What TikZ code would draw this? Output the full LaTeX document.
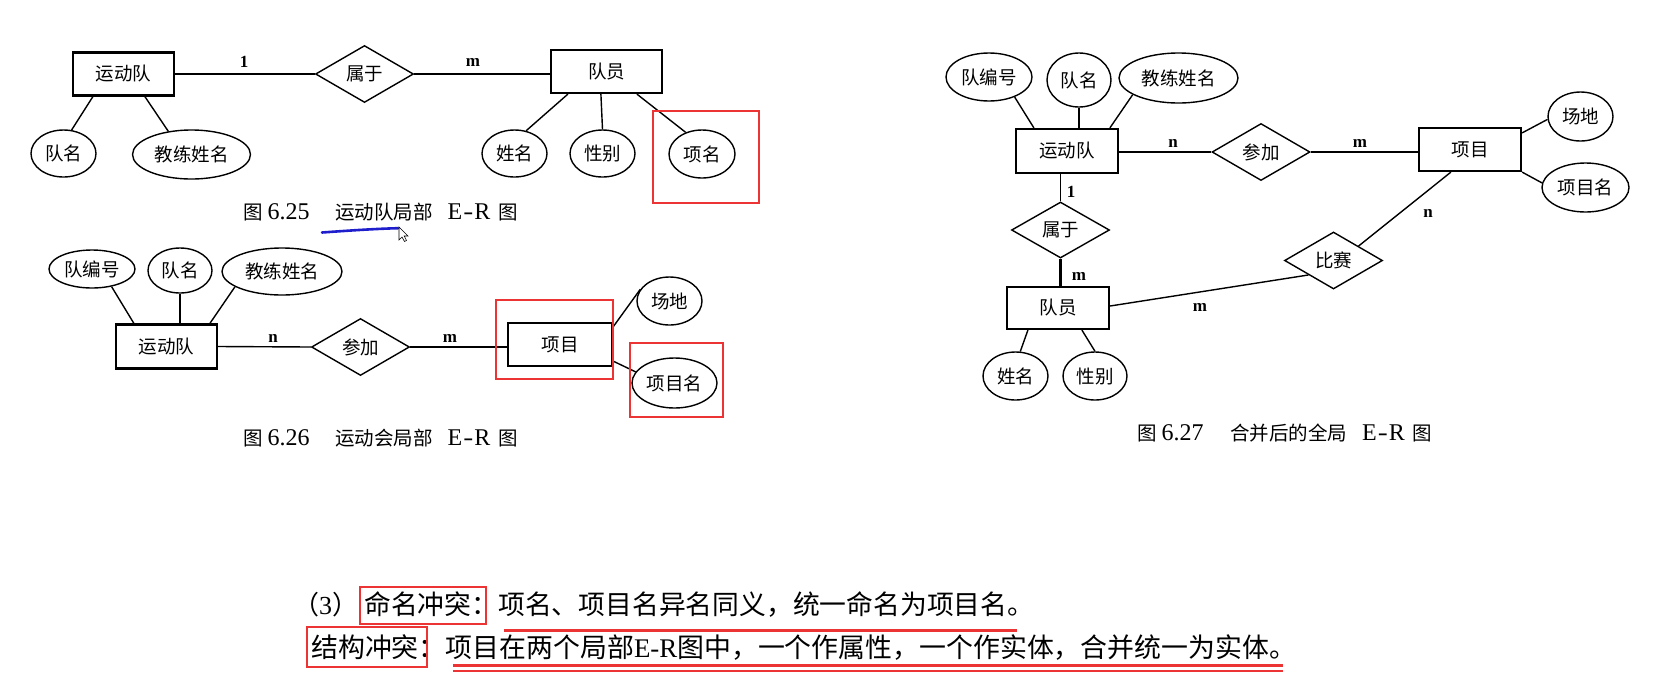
\documentclass[tikz,border=0pt]{standalone}
\usepackage{fontspec}
\setmainfont{Liberation Serif}
\newfontfamily\cjk{Noto Sans CJK SC}
\usetikzlibrary{shapes.geometric,calc}
\definecolor{annred}{RGB}{236,52,52}
\definecolor{annblue}{RGB}{30,30,205}
\newcommand\ERtxt{E\kern1pt\scalebox{1.25}[1]{-}\kern1pt R}
\newcommand\capcjk{\cjk\fontsize{19.5}{21}\selectfont}
\tikzset{
  ent/.style={draw, line width=2.2pt, inner sep=0pt, minimum width=#1, minimum height=43pt,
    font=\cjk\fontsize{18.5}{20}\selectfont},
  ent/.default=102pt,
  attr/.style={draw, ellipse, line width=1.4pt, inner sep=0pt,
    font=\cjk\fontsize{18.5}{20}\selectfont},
  rel/.style={draw, diamond, line width=1.4pt, inner sep=0pt, minimum width=98pt, minimum height=57pt,
    font=\cjk\fontsize{18.5}{20}\selectfont},
  ln/.style={line width=1.4pt},
  card/.style={inner sep=0pt, font=\bfseries\fontsize{17}{18}\selectfont},
  captxt/.style={inner sep=0pt, anchor=west, font=\fontsize{24}{26}\selectfont},
  bodytxt/.style={inner sep=0pt, anchor=west},
  redbox/.style={draw=annred, line width=2.6pt},
}
\begin{document}
\begin{tikzpicture}[x=1pt,y=-1pt]
\useasboundingbox[fill=white] (0,0) rectangle (1657,673);

% ---------- Fig 6.25 ----------
\node[ent=101pt] (ta) at (123.5,74) {运动队};
\node[rel] (sa) at (364.5,74) {属于};
\node[ent=111pt] (pa) at (606.5,71.5) {队员};
\node[attr, minimum width=65pt, minimum height=47pt] (tna) at (63.5,153.5) {队名};
\node[attr, minimum width=118pt, minimum height=49pt] (cna) at (191.5,154.5) {教练姓名};
\node[attr, minimum width=65pt, minimum height=47pt] (xma) at (514.5,153.5) {姓名};
\node[attr, minimum width=65pt, minimum height=47pt] (xba) at (602.5,153.5) {性别};
\node[attr, minimum width=66pt, minimum height=48pt] (xna) at (702,154) {项名};
\draw[ln] (ta.east) -- (sa.west);
\draw[ln] (sa.east) -- (sa.east -| pa.west);
\draw[ln] ([xshift=21pt]ta.south west) -- (tna.71);
\draw[ln] ([xshift=73pt]ta.south west) -- (cna.135);
\draw[ln] ([xshift=18pt]pa.south west) -- (xma.63);
\draw[ln] ([xshift=51pt]pa.south west) -- (xba.north);
\draw[ln] ([xshift=87pt]pa.south west) -- (xna.127);
\node[card] (la1) at (244,62) {1};
\node[card] (la2) at (473,62) {m};
\node[captxt] (c1a) at (243,212) {{\capcjk 图}\hspace{5pt}6.25};
\node[captxt] (c1b) at (335,212) {{\capcjk 运动队局部}\hspace{15pt}\ERtxt\hspace{8pt}{\capcjk 图}};
\draw[redbox] (653,111) rectangle (759,203);
% pen annotation
\draw[annblue, line width=2.6pt, line cap=round] (322,232.5) .. controls (350,230.5) and (375,228.8) .. (398,228.2);
\draw[line width=0.6pt, fill=white] (399,227) -- (399,240) -- (402,237) -- (404.5,241.5) -- (406.5,240.5) -- (404.2,236) -- (408,236) -- cycle;

% ---------- Fig 6.26 ----------
\node[ent=101pt, minimum height=44pt] (tb) at (166.5,346.5) {运动队};
\node[rel] (sb) at (360.5,347) {参加};
\node[ent=104pt] (pb) at (560,344.5) {项目};
\node[attr, minimum width=86pt, minimum height=38pt] (bhb) at (92,269) {队编号};
\node[attr, minimum width=64pt, minimum height=45pt] (tnb) at (180,270.5) {队名};
\node[attr, minimum width=120pt, minimum height=47pt] (cnb) at (282,271.5) {教练姓名};
\node[attr, minimum width=65pt, minimum height=48pt] (cdb) at (669.5,301) {场地};
\node[attr, minimum width=85pt, minimum height=50pt] (xmb) at (674.5,383) {项目名};
\draw[ln] (bhb.318) -- ([xshift=19pt]tb.north west);
\draw[ln] (tnb.south) -- (tnb.south |- tb.north);
\draw[ln] (cnb.198) -- ([xshift=95pt]tb.north west);
\draw[ln] (tb.east) -- (sb.west);
\draw[ln] (sb.east) -- (sb.east -| pb.west);
\draw[ln] ([yshift=-5pt]pb.north east) -- (cdb.158);
\draw[ln] ([yshift=6pt]pb.south east) -- (xmb.164);
\node[card] (lb1) at (273,338) {n};
\node[card] (lb2) at (450,338) {m};
\node[captxt] (c2a) at (243,438) {{\capcjk 图}\hspace{5pt}6.26};
\node[captxt] (c2b) at (335,438) {{\capcjk 运动会局部}\hspace{15pt}\ERtxt\hspace{8pt}{\capcjk 图}};
\draw[redbox] (496,300) rectangle (613,379);
\draw[redbox] (630,343) rectangle (723,417);

% ---------- Fig 6.27 ----------
\node[ent=102pt, minimum height=44pt] (tc) at (1067,151) {运动队};
\node[rel] (sc) at (1261,152) {参加};
\node[ent=102pt] (pc) at (1470,149.5) {项目};
\node[rel, minimum height=56pt] (bc) at (1060.5,230) {属于};
\node[ent=102pt, minimum height=42pt] (mc) at (1058,308) {队员};
\node[rel] (gc) at (1333.5,260.5) {比赛};
\node[attr, minimum width=86pt, minimum height=48pt] (bhc) at (989,77) {队编号};
\node[attr, minimum width=64pt, minimum height=54pt] (tnc) at (1079,80) {队名};
\node[attr, minimum width=119pt, minimum height=50pt] (cnc) at (1178.5,78) {教练姓名};
\node[attr, minimum width=65pt, minimum height=49pt] (cdc) at (1580.5,116.5) {场地};
\node[attr, minimum width=87pt, minimum height=49pt] (xmc) at (1585.5,187.5) {项目名};
\node[attr, minimum width=65pt, minimum height=48pt] (xnc) at (1015.5,376) {姓名};
\node[attr, minimum width=64pt, minimum height=48pt] (xbc) at (1095,376) {性别};
\draw[ln] (bhc.322) -- ([xshift=19pt]tc.north west);
\draw[ln] (tnc.south) -- (tnc.south |- tc.north);
\draw[ln] (cnc.200) -- ([xshift=95pt]tc.north west);
\draw[ln] (sc.west -| tc.east) -- (sc.west);
\draw[ln] (sc.east) -- (sc.east -| pc.west);
\draw[ln] ([yshift=-6pt]pc.north east) -- (cdc.185);
\draw[ln] (pc.south east) -- (xmc.174);
\draw[ln] ([xshift=33pt]pc.south west) -- (gc.30);
\draw[ln] ([yshift=2pt]mc.east) -- (gc.210);
\draw[ln] (bc.north |- tc.south) -- (bc.north);
\draw[line width=2.6pt] (bc.south) -- (bc.south |- mc.north);
\draw[ln] ([xshift=22pt]mc.south west) -- (xnc.79);
\draw[ln] ([xshift=76pt]mc.south west) -- (xbc.north);
\node[card] (lc1) at (1071,192) {1};
\node[card] (lc2) at (1079,276) {m};
\node[card] (lc3) at (1173,143) {n};
\node[card] (lc4) at (1360,143) {m};
\node[card] (lc5) at (1428,213) {n};
\node[card] (lc6) at (1200,307) {m};
\node[captxt] (c3a) at (1137,433) {{\capcjk 图}\hspace{5pt}6.27};
\node[captxt] (c3b) at (1230,433) {{\capcjk 合并后的全局}\hspace{15pt}\ERtxt\hspace{8pt}{\capcjk 图}};

% ---------- bottom text ----------
\node[bodytxt, font=\fontsize{26}{28}\selectfont] (t1a) at (293,605) {{\cjk （}3{\cjk ）}};
\node[bodytxt, font=\cjk\fontsize{26.8}{28}\selectfont] (t1b) at (364,605) {命名冲突：项名、项目名异名同义，统一命名为项目名。};
\node[bodytxt, font=\fontsize{26.9}{28}\selectfont] (t2) at (311,648) {{\cjk 结构冲突：项目在两个局部}E-R{\cjk 图中，一个作属性，一个作实体，合并统一为实体。}};
\draw[redbox] (360,587) rectangle (486,624);
\draw[redbox] (307,627) rectangle (427,667);
\draw[annred, line width=3pt] (504,630) -- (1017,630);
\draw[annred, line width=2.6pt] (453,665.5) -- (1283,665.5);
\draw[annred, line width=2pt] (453,670.5) -- (1283,670.5);
\end{tikzpicture}
\end{document}
